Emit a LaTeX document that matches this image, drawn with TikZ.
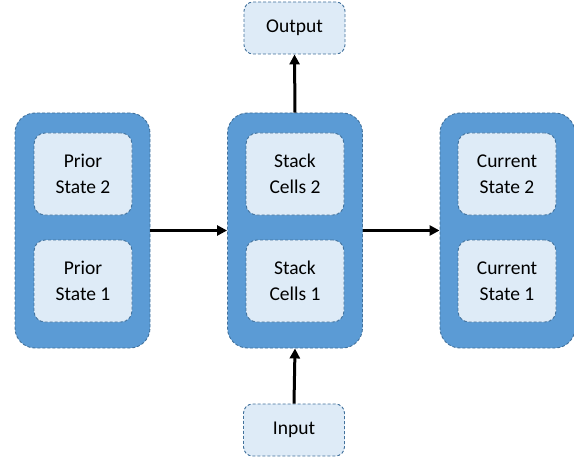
\documentclass[tikz,border=0pt]{standalone}
\usepackage{fontspec}
\setmainfont{Carlito}
\usetikzlibrary{arrows.meta}
\definecolor{outerblue}{HTML}{5B9BD5}
\definecolor{innerblue}{HTML}{DEEBF7}
\definecolor{edgeblue}{HTML}{41719C}
\begin{document}
\begin{tikzpicture}[
    x=1pt, y=1pt,
    every node/.style={align=center, font=\fontsize{19.5}{26}\selectfont},
    border/.style={draw=edgeblue, line width=0.9pt, dash pattern=on 3pt off 2pt},
    group/.style={border, fill=outerblue, rounded corners=20pt,
        minimum width=135pt, minimum height=235pt, inner sep=0pt},
    cell/.style={border, fill=innerblue, rounded corners=11pt,
        minimum width=98pt, minimum height=82pt, inner sep=0pt},
    io/.style={border, fill=innerblue, rounded corners=9pt,
        minimum width=101pt, minimum height=52pt, inner sep=0pt},
    flow/.style={-{Triangle[length=10pt,width=10pt]}, line width=3pt}
]
\useasboundingbox (0,0) rectangle (574,459);

% groups
\node[group] (prior) at (82.5,228.5) {};
\node[group] (stack) at (295,228.5) {};
\node[group] (current) at (507.5,228.5) {};

% cells
\node[cell] (prior2) at (83,285) {Prior\\State 2};
\node[cell] (prior1) at (83,178) {Prior\\State 1};
\node[cell] (stack2) at (295,285) {Stack\\Cells 2};
\node[cell] (stack1) at (295,178) {Stack\\Cells 1};
\node[cell] (current2) at (507,285) {Current\\State 2};
\node[cell] (current1) at (507,178) {Current\\State 1};

% input and output
\node[io] (output) at (294.5,431) {Output};
\node[io] (input) at (294,29) {Input};

% arrows
\draw[flow] (prior.east) -- (stack.west);
\draw[flow] (stack.east) -- (current.west);
\draw[flow] (stack.north) -- (output.south);
\draw[flow] (input.north) -- (stack.south);
\end{tikzpicture}
\end{document}
